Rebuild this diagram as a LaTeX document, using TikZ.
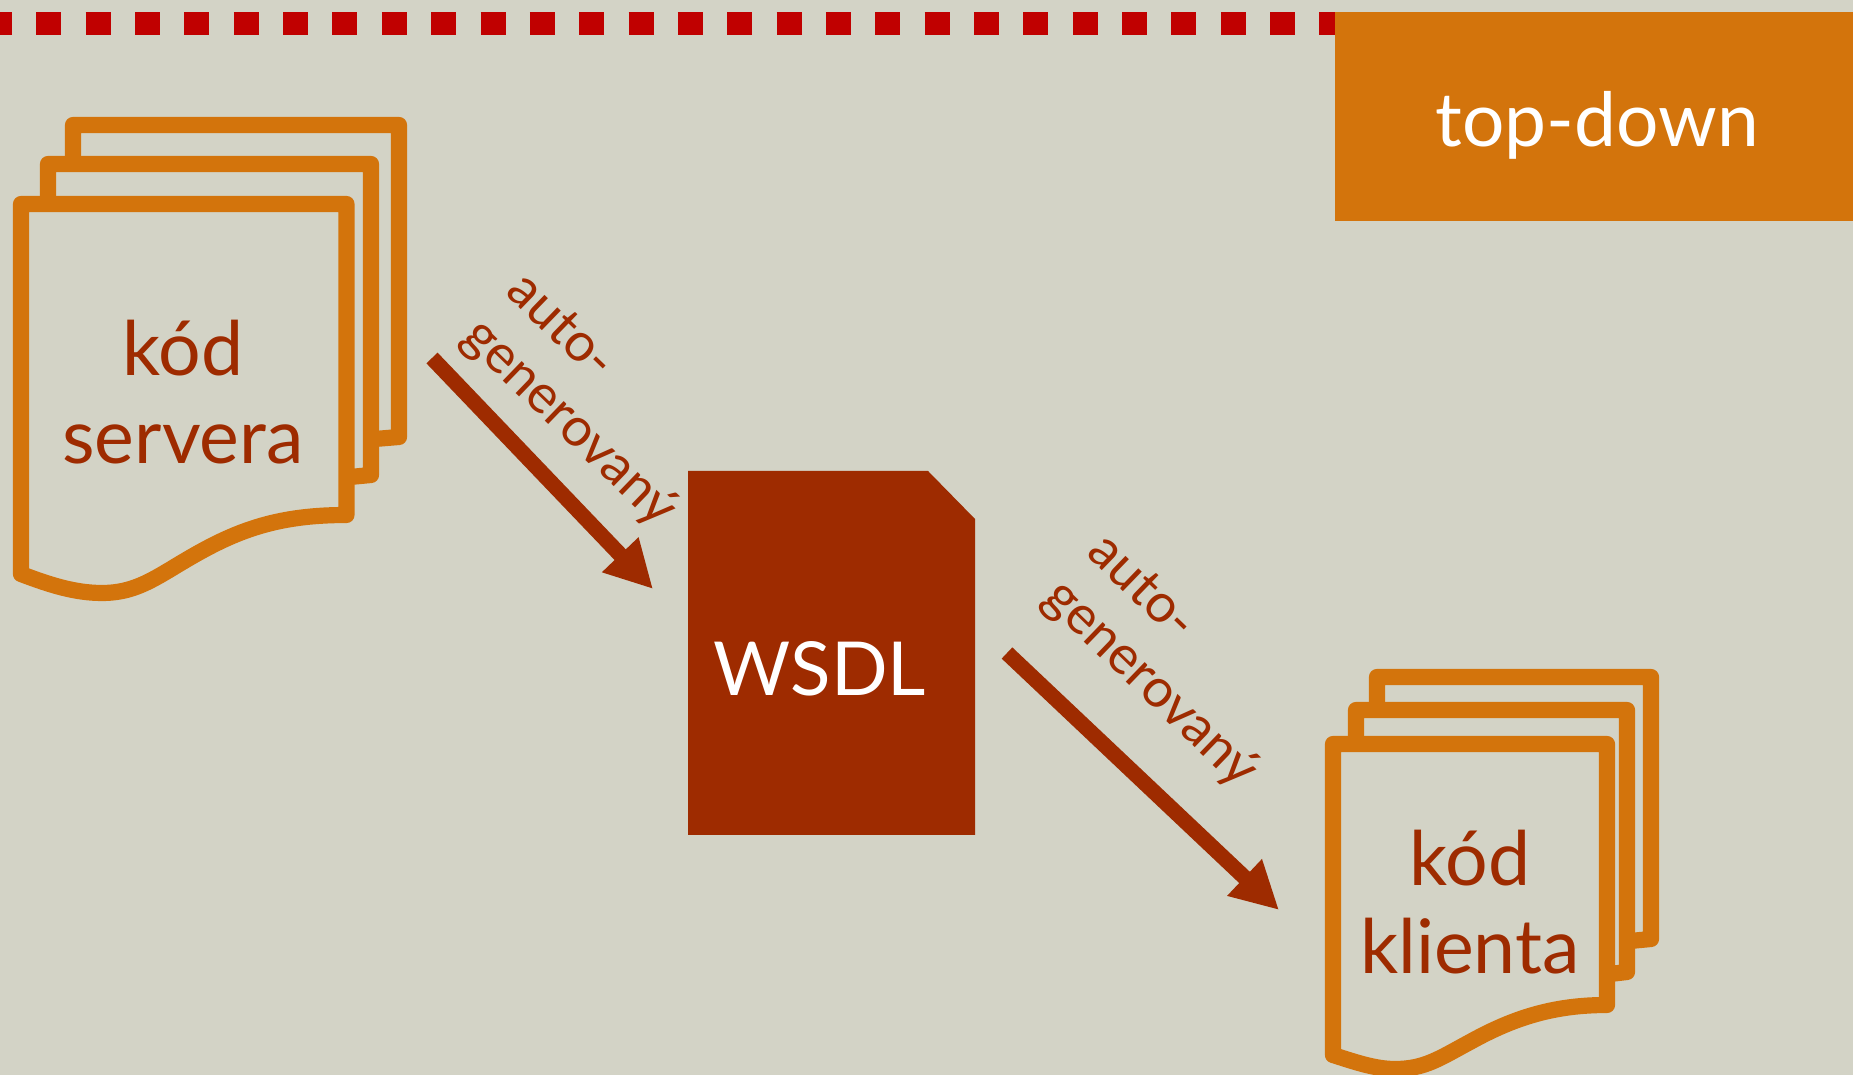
\documentclass[tikz,border=0pt]{standalone}
\usepackage{tikz}
\usepackage{tkz-euclide}
\usepackage{fontspec}
\setmainfont{Lato}
\usetikzlibrary{calc,arrows.meta}
\definecolor{pozadie}{HTML}{D3D3C6}
\definecolor{oranzova}{HTML}{D3740C}
\definecolor{hneda}{HTML}{9E2B00}
\definecolor{cervena}{HTML}{C00000}
\tikzset{
  strana/.style={draw=oranzova,line width=4.6pt,line join=round},
  sipka/.style={draw=hneda,line width=4.4pt,-{Triangle[length=13.5pt,width=13.4pt]}},
  popis/.style={color=hneda,font=\fontsize{21.4}{25}\selectfont,align=center},
  autogen/.style={color=hneda,font=\fontsize{15.3}{18}\selectfont,align=left,rotate=-44}
}

\begin{document}
\begin{tikzpicture}[scale=1]
\fill[pozadie] (0,0) rectangle (18.53,-10.75);
\useasboundingbox (0,0) rectangle (18.53,-10.75);

\draw[cervena,line width=6.8pt,dash pattern=on 0.25cm off 0.2435cm,dash phase=0.13cm] (0,-0.235) -- (18.53,-0.235);

% orange label
\tkzDefPoint(13.35,-0.12){A}
\tkzDefPoint(18.53,-2.21){B}
\fill[oranzova] (A) rectangle (B);
\draw[color=white] (15.97,-1.25) node[font=\fontsize{21.3}{26}\selectfont] (smer) {top-down};

% server code
\tkzDefPoint(0.73,-1.6){A}
\tkzDefPoint(0.73,-1.25){B}
\tkzDefPoint(3.99,-1.25){C}
\tkzDefPoint(3.99,-4.37){D}
\tkzDefPoint(3.75,-4.39){E}
\draw[strana] (A) -- (B) -- (C) -- (D) -- (E);
\tkzDefPoint(0.48,-2.04){A}
\tkzDefPoint(0.48,-1.64){B}
\tkzDefPoint(3.71,-1.64){C}
\tkzDefPoint(3.71,-4.75){D}
\tkzDefPoint(3.5,-4.77){E}
\draw[strana] (A) -- (B) -- (C) -- (D) -- (E);
\tkzDefPoint(0.21,-2.04){A}
\tkzDefPoint(3.465,-2.04){B}
\tkzDefPoint(3.465,-5.15){C}
\tkzDefPoint(0.21,-5.74){D}
\draw[strana] (A) -- (B) -- (C) .. controls (2.85,-5.15) and (2.45,-5.27) .. (2.0,-5.52) .. controls (1.6,-5.74) and (1.4,-5.93) .. (1.02,-5.93) .. controls (0.75,-5.93) and (0.5,-5.85) .. (D) -- cycle;
\draw[color=hneda] (1.83,-3.92) node[popis] (server) {kód\\servera};

% wsdl file
\tkzDefPoint(6.88,-4.71){A}
\tkzDefPoint(9.28,-4.71){B}
\tkzDefPoint(9.75,-5.19){C}
\tkzDefPoint(9.75,-8.35){D}
\tkzDefPoint(6.88,-8.35){E}
\fill[hneda] (A) -- (B) -- (C) -- (D) -- (E) -- cycle;
\draw[color=white] (8.2,-6.69) node[font=\fontsize{21.2}{26}\selectfont] (wsdl) {WSDL};

% client code
\tkzDefPoint(13.77,-7.1){A}
\tkzDefPoint(13.77,-6.77){B}
\tkzDefPoint(16.51,-6.77){C}
\tkzDefPoint(16.51,-9.39){D}
\tkzDefPoint(16.3,-9.41){E}
\draw[strana] (A) -- (B) -- (C) -- (D) -- (E);
\tkzDefPoint(13.56,-7.44){A}
\tkzDefPoint(13.56,-7.1){B}
\tkzDefPoint(16.27,-7.1){C}
\tkzDefPoint(16.27,-9.72){D}
\tkzDefPoint(16.1,-9.74){E}
\draw[strana] (A) -- (B) -- (C) -- (D) -- (E);
\tkzDefPoint(13.33,-7.44){A}
\tkzDefPoint(16.07,-7.44){B}
\tkzDefPoint(16.07,-10.05){C}
\tkzDefPoint(13.33,-10.55){D}
\draw[strana] (A) -- (B) -- (C) .. controls (15.55,-10.05) and (15.15,-10.17) .. (14.7,-10.42) .. controls (14.4,-10.58) and (14.25,-10.69) .. (13.95,-10.69) .. controls (13.75,-10.69) and (13.55,-10.62) .. (D) -- cycle;
\draw[color=hneda] (14.7,-9.02) node[popis] (klient) {kód\\klienta};

% arrows
\tkzDefPoint(4.32,-3.58){A}
\tkzDefPoint(6.53,-5.89){B}
\draw[sipka] (A) -- (B);
\tkzDefPoint(10.07,-6.53){A}
\tkzDefPoint(12.79,-9.1){B}
\draw[sipka] (A) -- (B);
\draw (5.9,-4.02) node[autogen] (autoA) {auto-\\generovaný};
\draw (11.71,-6.63) node[autogen] (autoB) {auto-\\generovaný};
\end{tikzpicture}
\end{document}
